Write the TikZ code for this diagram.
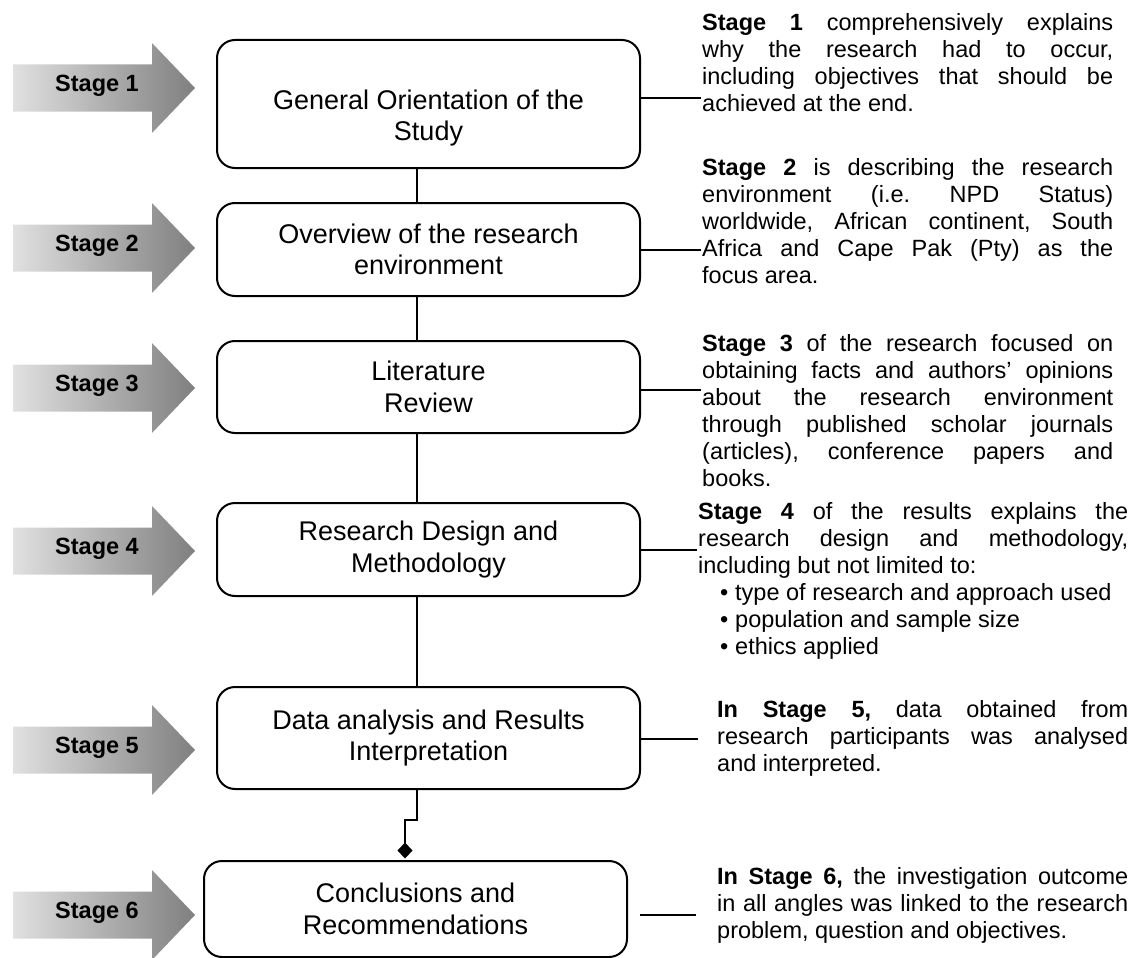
\documentclass[tikz,border=0pt]{standalone}
\usepackage{fontspec}
\setmainfont{Liberation Sans}
\usetikzlibrary{arrows.meta}
\setlength\parindent{0pt}
\frenchspacing
\newcommand\myboxfont{\fontsize{27}{31.5}\selectfont}
\newcommand\mydescfont{\fontsize{23.5}{27}\selectfont\frenchspacing}
\newcommand\mystagefont{\bfseries\fontsize{23.5}{27}\selectfont}
\begin{document}
\begin{tikzpicture}[x=1pt,y=-1pt,
  box/.style={draw, line width=2pt, rounded corners=18pt, minimum width=423pt,
    inner sep=0pt, align=center, font=\myboxfont},
  boxtext/.style={inner sep=0pt, align=center, font=\myboxfont},
  link/.style={line width=2pt},
  side/.style={line width=1.6pt},
  desc/.style={anchor=north west, inner sep=0pt, align=justify, font=\mydescfont},
  stagelbl/.style={font=\mystagefont, inner sep=0pt},
  stagearrow/.style={left color=black!12, right color=black!50, draw=none}
]
\useasboundingbox (0,0) rectangle (1144,958);

% stage arrows
\foreach \c/\n in {88/1,248/2,388/3,551/4,750/5,915/6}{
  \shade[stagearrow] (13,\c-23.5) -- (152,\c-23.5) -- (152,\c-45) -- (195,\c)
     -- (152,\c+45) -- (152,\c+23.5) -- (13,\c+23.5) -- cycle;
  \node[stagelbl] (s\n) at (97,\c-2) {Stage \n};
}

% boxes
\node[box, minimum height=128pt] (b1) at (428.5,104) {};
\node[boxtext] (b1t) at (428.5,118) {General Orientation of the\\Study};
\node[box, minimum height=93pt] (b2) at (428.5,249.5) {Overview of the research\\environment};
\node[box, minimum height=92pt] (b3) at (428.5,387) {Literature\\Review};
\node[box, minimum height=93pt] (b4) at (428.5,549.5) {Research Design and\\Methodology};
\node[box, minimum height=102pt] (b5) at (428.5,738) {Data analysis and Results\\Interpretation};
\node[box, minimum height=96pt] (b6) at (415.5,909) {Conclusions and\\Recommendations};

% vertical links
\coordinate (vx) at (417,0);
\draw[link] (vx |- b1.south) -- (vx |- b2.north);
\draw[link] (vx |- b2.south) -- (vx |- b3.north);
\draw[link] (vx |- b3.south) -- (vx |- b4.north);
\draw[link] (vx |- b4.south) -- (vx |- b5.north);
\coordinate (j1) at (417,820);
\coordinate (j2) at (405,820);
\draw[link, -{Diamond[width=15pt,length=16pt]}, shorten >=1.5pt]
  (vx |- b5.south) -- (j1) -- (j2) -- (j2 |- b6.north);

% descriptions
\node[desc, text width=411pt] (d1) at (702,13.5)
 {\textbf{Stage 1} comprehensively explains\linebreak
  why the research had to occur,\linebreak
  including objectives that should be\linebreak
  achieved at the end.};
\node[desc, text width=411pt] (d2) at (702,158.5)
 {\textbf{Stage 2} is describing the research\linebreak
  environment (i.e. NPD Status)\linebreak
  worldwide, African continent, South\linebreak
  Africa and Cape Pak (Pty) as the\linebreak
  focus area.};
\node[desc, text width=411pt] (d3) at (702,334.5)
 {\textbf{Stage 3} of the research focused on\linebreak
  obtaining facts and authors’ opinions\linebreak
  about the research environment\linebreak
  through published scholar journals\linebreak
  (articles), conference papers and\linebreak
  books.};
\node[desc, text width=430pt] (d4) at (698,502.5)
 {\textbf{Stage 4} of the results explains the\linebreak
  research design and methodology,\linebreak
  including but not limited to:\par
  \hspace*{22pt}\makebox[15pt][l]{•}type of research and approach used\par
  \hspace*{22pt}\makebox[15pt][l]{•}population and sample size\par
  \hspace*{22pt}\makebox[15pt][l]{•}ethics applied\par};
\node[desc, text width=411pt] (d5) at (717,700.5)
 {\textbf{In Stage 5,} data obtained from\linebreak
  research participants was analysed\linebreak
  and interpreted.};
\node[desc, text width=411pt] (d6) at (717,867.5)
 {\textbf{In Stage 6,} the investigation outcome\linebreak
  in all angles was linked to the research\linebreak
  problem, question and objectives.};

% side connectors
\coordinate (t1) at (701,98);
\coordinate (t2) at (701,250);
\coordinate (t3) at (701,390);
\coordinate (t4) at (697,550);
\coordinate (t5) at (698,739);
\coordinate (t6a) at (640,915);
\coordinate (t6) at (696,915);
\draw[side] (b1.east |- t1) -- (t1);
\draw[side] (b2.east |- t2) -- (t2);
\draw[side] (b3.east |- t3) -- (t3);
\draw[side] (b4.east |- t4) -- (t4);
\draw[side] (b5.east |- t5) -- (t5);
\draw[side] (t6a) -- (t6);
\end{tikzpicture}
\end{document}
